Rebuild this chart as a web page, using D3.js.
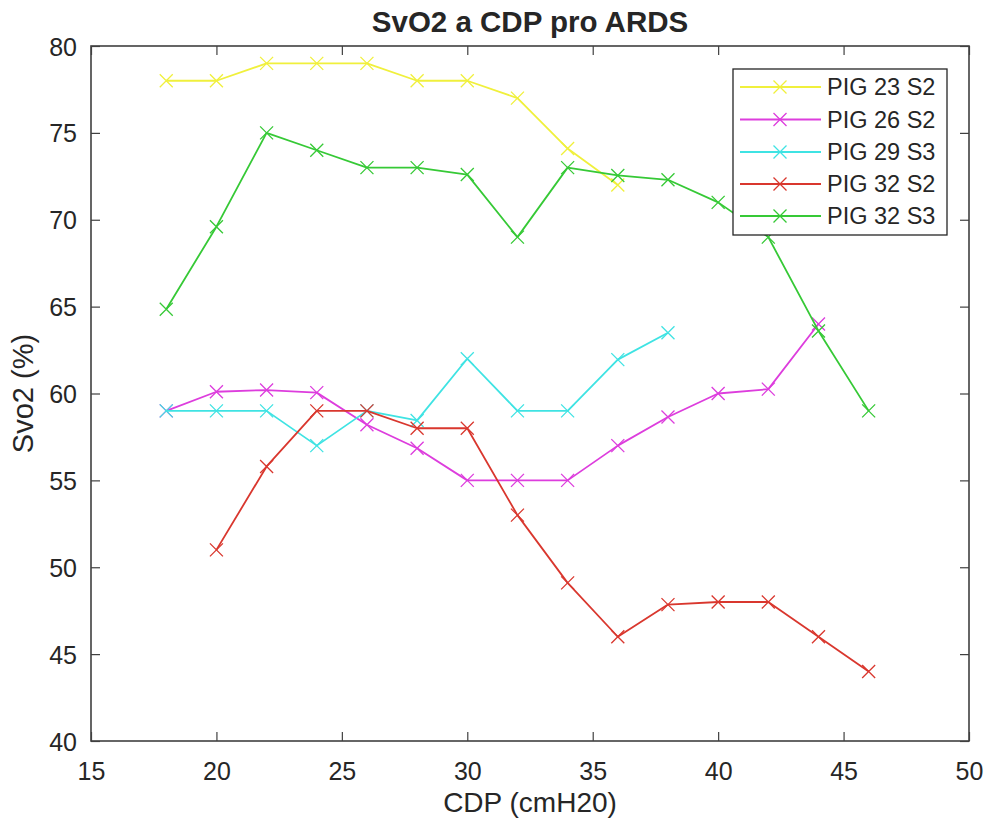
<!DOCTYPE html>
<html><head><meta charset="utf-8">
<script src="https://cdn.jsdelivr.net/npm/d3@7"></script>
<style>body{margin:0;background:#fff;}svg{display:block;}text{font-family:"Liberation Sans",Arial,sans-serif;fill:#262626;}</style>
</head><body>
<script>
const title = "SvO2 a CDP pro ARDS";
const xLabel = "CDP (cmH20)";
const yLabel = "Svo2 (%)";
const xTicks = [15, 20, 25, 30, 35, 40, 45, 50];
const yTicks = [40, 45, 50, 55, 60, 65, 70, 75, 80];
const seriesNames = ["PIG 23 S2", "PIG 26 S2", "PIG 29 S3", "PIG 32 S2", "PIG 32 S3"];
const seriesColors = ["#f0f03c", "#dd3ddd", "#3fe3e3", "#d9372e", "#36c936"];
const pig23s2_x = [18, 20, 22, 24, 26, 28, 30, 32, 34, 36];
const pig23s2_y = [78, 78, 79, 79, 79, 78, 78, 77, 74.1, 72];
const pig26s2_x = [18, 20, 22, 24, 26, 28, 30, 32, 34, 36, 38, 40, 42, 44];
const pig26s2_y = [59, 60.1, 60.2, 60.05, 58.2, 56.85, 55, 55, 55, 57, 58.65, 60, 60.25, 64];
const pig29s3_x = [18, 20, 22, 24, 26, 28, 30, 32, 34, 36, 38];
const pig29s3_y = [59, 59, 59, 57, 59, 58.45, 62, 59, 59, 61.95, 63.5];
const pig32s2_x = [20, 22, 24, 26, 28, 30, 32, 34, 36, 38, 40, 42, 44, 46];
const pig32s2_y = [51, 55.8, 59, 59, 58, 58, 53, 49.1, 46, 47.85, 48, 48, 46, 44];
const pig32s3_x = [18, 20, 22, 24, 26, 28, 30, 32, 34, 36, 38, 40, 42, 44, 46];
const pig32s3_y = [64.85, 69.6, 75, 74, 73, 73, 72.6, 69, 73, 72.55, 72.3, 71, 69, 63.6, 59];

const seriesX = [pig23s2_x, pig26s2_x, pig29s3_x, pig32s2_x, pig32s3_x];
const seriesY = [pig23s2_y, pig26s2_y, pig29s3_y, pig32s2_y, pig32s3_y];
const series = seriesNames.map((n, i) => ({
  name: n, color: seriesColors[i],
  pts: seriesX[i].map((x, j) => ({x: x, y: seriesY[i][j]}))
}));

const W = 987, H = 827;
const L = 91, R = 969, T = 46, B = 741;
const svg = d3.select("body").append("svg").attr("width", W).attr("height", H);
const x = d3.scaleLinear().domain([15, 50]).range([L, R]);
const y = d3.scaleLinear().domain([40, 80]).range([B, T]);
const axisColor = "#404040";

// box
svg.append("rect").attr("x", L).attr("y", T).attr("width", R - L).attr("height", B - T)
  .attr("fill", "#fff").attr("stroke", axisColor).attr("stroke-width", 1.6);

// axes with inward ticks
const tl = 9;
const gx = svg.append("g").attr("transform", `translate(0,${B})`)
  .call(d3.axisBottom(x).tickValues(xTicks).tickSize(-tl).tickPadding(21).tickFormat(d3.format("d")));
const gxt = svg.append("g").attr("transform", `translate(0,${T})`)
  .call(d3.axisTop(x).tickValues(xTicks).tickSize(-tl).tickFormat(""));
const gy = svg.append("g").attr("transform", `translate(${L},0)`)
  .call(d3.axisLeft(y).tickValues(yTicks).tickSize(-tl).tickPadding(14).tickFormat(d3.format("d")));
const gyr = svg.append("g").attr("transform", `translate(${R},0)`)
  .call(d3.axisRight(y).tickValues(yTicks).tickSize(-tl).tickFormat(""));
[gx, gxt, gy, gyr].forEach(g => {
  g.select(".domain").remove();
  g.selectAll(".tick line").attr("stroke", axisColor).attr("stroke-width", 1.2);
  g.selectAll(".tick text").attr("font-size", 25).attr("fill", "#262626")
    .style("font-family", '"Liberation Sans",Arial,sans-serif');
});
gy.selectAll(".tick text").attr("dy", "0.36em");

// title and labels
svg.append("text").attr("x", (L + R) / 2).attr("y", 32).attr("text-anchor", "middle")
  .attr("font-size", 29.5).attr("font-weight", "bold").attr("fill", "#000").text(title);
svg.append("text").attr("x", (L + R) / 2).attr("y", 812).attr("text-anchor", "middle")
  .attr("font-size", 28).text(xLabel);
svg.append("text").attr("transform", `translate(33,${(T + B) / 2}) rotate(-90)`)
  .attr("text-anchor", "middle").attr("font-size", 29).text(yLabel);

// lines and markers
const line = d3.line().x(d => x(d.x)).y(d => y(d.y));
const ms = 6.5;
function cross(g, cx, cy, color) {
  g.append("path").attr("d", `M${cx - ms},${cy - ms}L${cx + ms},${cy + ms}M${cx - ms},${cy + ms}L${cx + ms},${cy - ms}`)
    .attr("stroke", color).attr("stroke-width", 1.3).attr("fill", "none");
}
series.forEach(s => {
  const g = svg.append("g");
  g.append("path").datum(s.pts).attr("d", line).attr("fill", "none")
    .attr("stroke", s.color).attr("stroke-width", 1.8).attr("stroke-linejoin", "round");
  s.pts.forEach(p => cross(g, x(p.x), y(p.y), s.color));
});

// legend
const lg = svg.append("g");
lg.append("rect").attr("x", 733).attr("y", 69).attr("width", 214).attr("height", 166)
  .attr("fill", "#fff").attr("stroke", "#262626").attr("stroke-width", 1.3);
const legY = [87, 119.5, 152, 184, 216];
series.forEach((s, i) => {
  const ly = legY[i];
  lg.append("line").attr("x1", 740).attr("x2", 821).attr("y1", ly).attr("y2", ly)
    .attr("stroke", s.color).attr("stroke-width", 1.8);
  cross(lg, 780, ly, s.color);
  lg.append("text").attr("x", 827).attr("y", ly).attr("dy", "0.36em")
    .attr("font-size", 23.5).attr("fill", "#000").text(s.name);
});
</script>
</body></html>
